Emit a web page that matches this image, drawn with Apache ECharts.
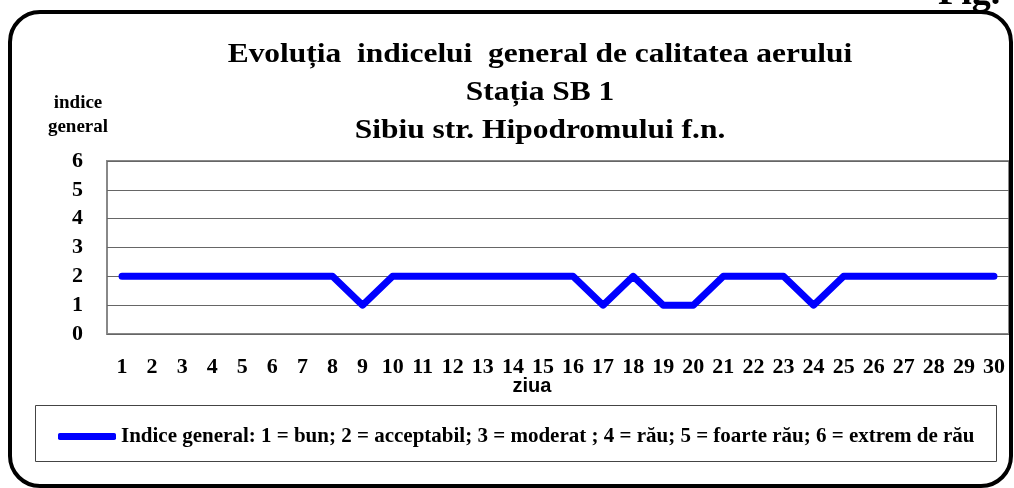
<!DOCTYPE html>
<html style="height: 100%">
    <head>
        <meta charset="utf-8">
    </head>
    <body style="height: 100%; margin: 0; background: #fff">
        <div id="container" style="width: 1014px; height: 488px"></div>
        <script type="text/javascript" src="https://cdn.jsdelivr.net/npm/echarts@6/dist/echarts.min.js"></script>
        <script type="text/javascript">

// zilele lunii
var days = ['1','2','3','4','5','6','7','8','9','10','11','12','13','14','15',
            '16','17','18','19','20','21','22','23','24','25','26','27','28','29','30'];
// indice general pe zile
var indice = [2,2,2,2,2,2,2,2,1,2,2,2,2,2,2,2,1,2,1,1,2,2,2,1,2,2,2,2,2,2];
var seriesName = 'Indice general: 1 = bun; 2 = acceptabil; 3 = moderat ; 4 = rău; 5 = foarte rău; 6 = extrem de rău';
var titleLines = ['Evoluția  indicelui  general de calitatea aerului', 'Stația SB 1', 'Sibiu str. Hipodromului f.n.'];

var serif = '"Liberation Serif", "DejaVu Serif", serif';

var dom = document.getElementById("container");
var myChart = echarts.init(dom);

function titleText(txt, y) {
    return { type: 'text', x: 540, y: y, scaleX: 1.165, originX: 0, originY: 0,
             style: { text: txt, font: 'bold 27px ' + serif, fill: '#000', align: 'center', verticalAlign: 'middle' } };
}

var option = {
    animation: false,
    backgroundColor: '#fff',
    graphic: [
        // rama rotunjita
        { type: 'rect', shape: { x: 10, y: 12, width: 1001, height: 474, r: 30 },
          style: { fill: 'none', stroke: '#000', lineWidth: 4 }, z: 0 },
        { type: 'text', x: 938, y: -6,
          style: { text: 'Fig.', font: 'bold 38px ' + serif, fill: '#000', align: 'left', verticalAlign: 'middle' } },
        titleText(titleLines[0], 55),
        titleText(titleLines[1], 93),
        titleText(titleLines[2], 131),
        { type: 'text', x: 78, y: 103,
          style: { text: 'indice', font: 'bold 19px ' + serif, fill: '#000', align: 'center', verticalAlign: 'middle' } },
        { type: 'text', x: 78, y: 127,
          style: { text: 'general', font: 'bold 19px ' + serif, fill: '#000', align: 'center', verticalAlign: 'middle' } },
        { type: 'text', x: 532, y: 386,
          style: { text: 'ziua', font: 'bold 20px "Liberation Sans", Arial, sans-serif', fill: '#000', align: 'center', verticalAlign: 'middle' } },
        // chenar legenda
        { type: 'rect', shape: { x: 35.5, y: 405.5, width: 961, height: 56 },
          style: { fill: 'none', stroke: '#444', lineWidth: 1 } }
    ],
    grid: {
        left: 107, right: 5, top: 161, bottom: 154,
        show: true, borderColor: '#888', borderWidth: 2
    },
    legend: {
        left: 53, top: 421,
        itemWidth: 58, itemHeight: 7, itemGap: 10,
        icon: 'roundRect',
        textStyle: { fontFamily: serif, fontWeight: 'bold', fontSize: 21, color: '#000' },
        data: [seriesName]
    },
    xAxis: {
        type: 'category',
        data: days,
        boundaryGap: true,
        axisLine: { show: false },
        axisTick: { show: false },
        axisLabel: { margin: 22, fontFamily: serif, fontWeight: 'bold', fontSize: 22, color: '#000' }
    },
    yAxis: {
        type: 'value',
        min: 0, max: 6, interval: 1,
        axisLine: { show: false },
        axisTick: { show: false },
        splitLine: { lineStyle: { color: '#666', width: 1 } },
        axisLabel: { margin: 24, fontFamily: serif, fontWeight: 'bold', fontSize: 22, color: '#000' }
    },
    series: [{
        name: seriesName,
        type: 'line',
        data: indice,
        symbol: 'none',
        color: '#0000ff',
        lineStyle: { width: 7, color: '#0000ff', cap: 'round', join: 'round' }
    }]
};
myChart.setOption(option);

        </script>
    </body>
</html>
